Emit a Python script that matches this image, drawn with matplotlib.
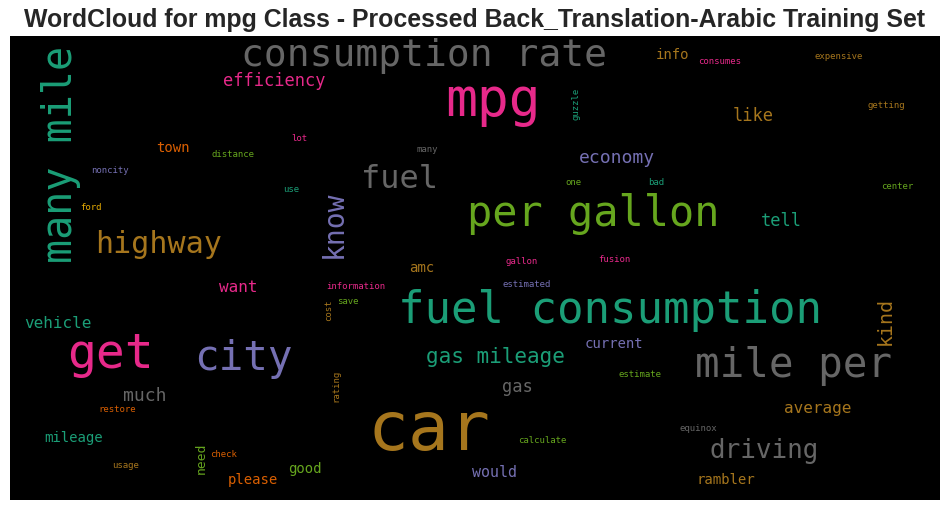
import matplotlib.pyplot as plt

# палитра Dark2
teal, orange, purple, pink = '#1b9e77', '#d95f02', '#7570b3', '#e7298a'
green, yellow, brown, gray = '#66a61e', '#e6ab02', '#a6761d', '#666666'

words = ['consumption rate', 'efficiency', 'mpg', 'many mile', 'town', 'distance',
         'lot', 'noncity', 'use', 'ford', 'highway', 'guzzle', 'many', 'fuel',
         'economy', 'one', 'know', 'per gallon', 'amc', 'gallon', 'fusion', 'info',
         'consumes', 'expensive', 'like', 'getting', 'bad', 'center', 'tell', 'want',
         'vehicle', 'get', 'city', 'much', 'restore', 'mileage', 'need', 'check',
         'usage', 'please', 'good', 'information', 'estimated', 'cost', 'save',
         'fuel consumption', 'current', 'gas mileage', 'gas', 'rating', 'car',
         'calculate', 'would', 'kind', 'mile per', 'estimate', 'average', 'equinox',
         'driving', 'rambler']
# левый край (или низ для повёрнутых) и базовая линия, в пикселях картинки
word_x = [243, 224, 448, 72, 157, 212, 292, 92, 284, 81, 97, 578, 417, 363,
          580, 566, 342, 470, 410, 506, 599, 657, 699, 815, 734, 868, 649, 882, 762, 220,
          25, 70, 197, 124, 99, 45, 205, 211, 113, 229, 289, 327, 503, 331, 338,
          401, 585, 427, 503, 338, 372, 519, 473, 891, 697, 619, 785, 680, 711, 697]
word_y = [66, 86, 116, 261, 152, 157, 141, 173, 192, 210, 253, 119, 152, 188,
          163, 185, 256, 226, 272, 264, 262, 59, 64, 59, 121, 108, 185, 189, 226, 292,
          328, 368, 370, 401, 412, 442, 473, 457, 468, 484, 473, 289, 287, 320, 304,
          323, 348, 363, 392, 401, 450, 443, 477, 344, 377, 377, 413, 431, 458, 484]
word_size = [38, 17, 53, 40, 14, 9, 9, 9, 9, 9, 30, 9, 9, 32,
             18, 9, 28, 42, 14, 9, 9, 14, 9, 9, 17, 9, 9, 9, 17, 16,
             16, 48, 41, 18, 9, 14, 13, 9, 9, 14, 14, 9, 9, 9, 9,
             44, 14, 21, 17, 9, 68, 9, 15, 20, 41, 9, 16, 9, 26, 14]
word_rot = [0, 0, 0, 90, 0, 0, 0, 0, 0, 0, 0, 90, 0, 0,
            0, 0, 90, 0, 0, 0, 0, 0, 0, 0, 0, 0, 0, 0, 0, 0,
            0, 0, 0, 0, 0, 0, 90, 0, 0, 0, 0, 0, 0, 90, 0,
            0, 0, 0, 0, 90, 0, 0, 0, 90, 0, 0, 0, 0, 0, 0]
word_color = [gray, pink, pink, teal, orange, green, pink, purple, teal, yellow, brown, teal, gray, gray,
              purple, green, purple, green, brown, pink, pink, brown, pink, brown, brown, brown, teal, green, teal, pink,
              teal, pink, purple, gray, orange, teal, green, orange, brown, orange, green, pink, purple, brown, green,
              teal, purple, teal, gray, brown, brown, green, purple, brown, gray, green, brown, gray, gray, brown]

fig = plt.figure(figsize=(9.5, 5.11), dpi=100)
ax = fig.add_axes([10/950, 11/511, 930/950, 464/511])
ax.set_facecolor('black')
ax.set_xlim(10, 940)
ax.set_ylim(500, 36)
ax.set_xticks([])
ax.set_yticks([])
for s in ax.spines.values():
    s.set_visible(False)

for w, x, y, sz, r, c in zip(words, word_x, word_y, word_size, word_rot, word_color):
    if r == 0:
        x = x - 0.06*sz  # боковой отступ глифа
    else:
        y = y + 0.06*sz
    ax.text(x, y, w, fontsize=sz*0.72, color=c, family='DejaVu Sans Mono',
            rotation=r, rotation_mode='anchor', ha='left', va='baseline')

fig.text(0.5, 1 - 27/511, 'WordCloud for mpg Class - Processed Back_Translation-Arabic Training Set',
         ha='center', va='baseline', fontsize=17.9, fontweight='bold', color='#262626',
         family='Liberation Sans')

fig.savefig('out.png', dpi=100, facecolor='white')
